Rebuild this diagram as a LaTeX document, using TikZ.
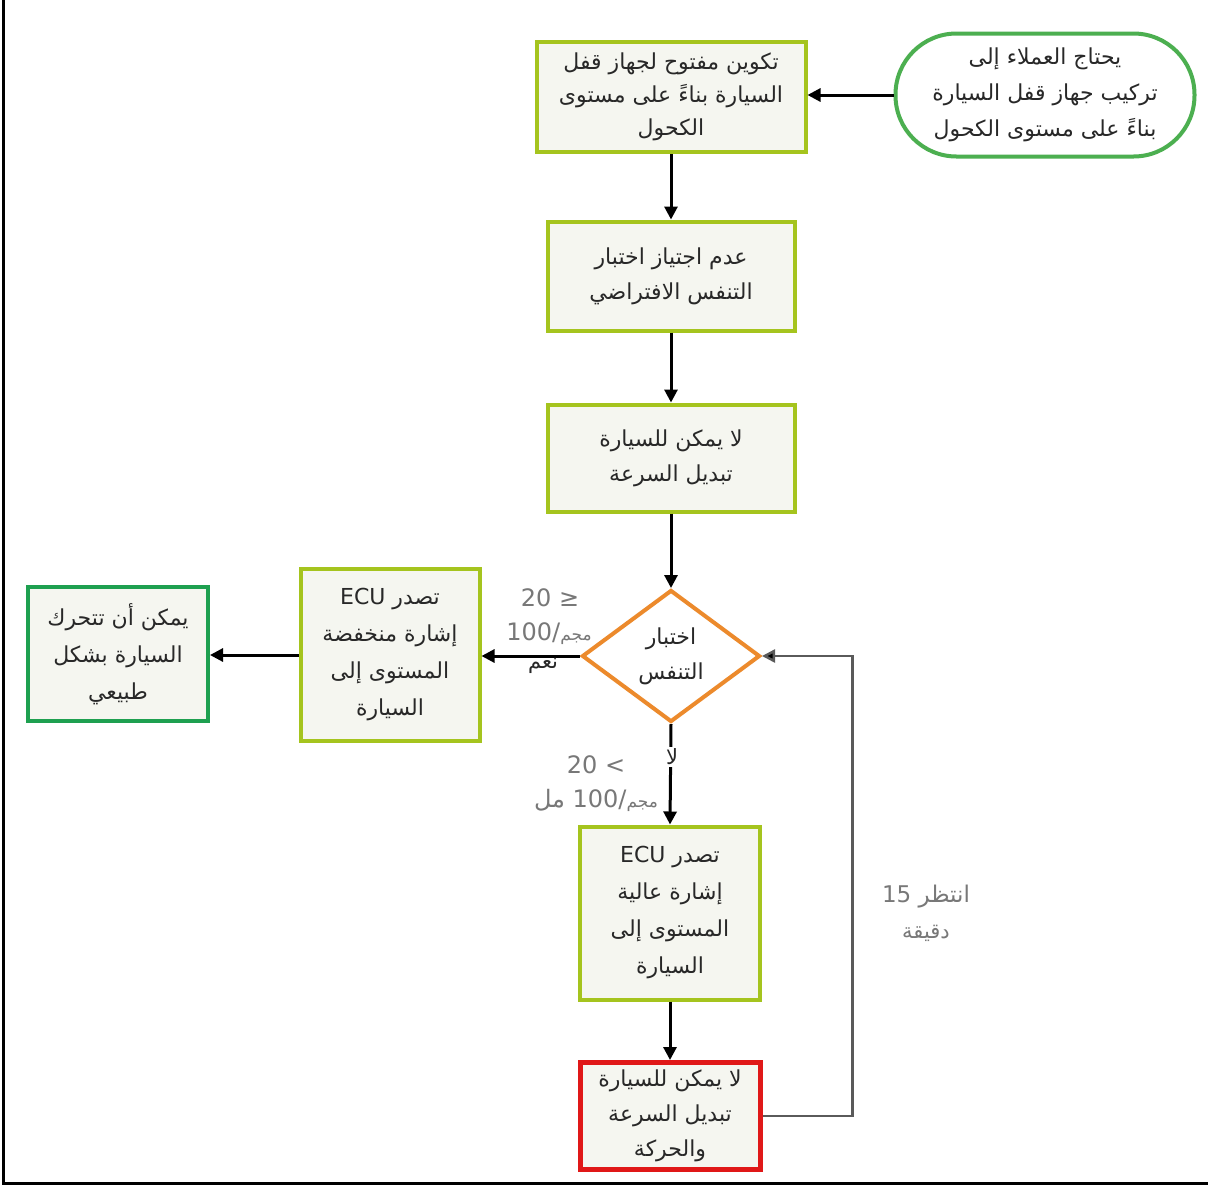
\documentclass[tikz,border=0pt]{standalone}
\usepackage{fontspec}
\usetikzlibrary{shapes.geometric,arrows.meta}
\TeXXeTstate=1
\newfontfamily\arabicfont[Script=Arabic]{DejaVu Sans}
\newfontfamily\symfont{DejaVu Sans}
\newcommand{\ar}[1]{{\arabicfont\beginR #1\endR}}
\definecolor{limec}{RGB}{165,196,30}
\definecolor{boxfill}{RGB}{245,246,240}
\definecolor{startg}{RGB}{76,175,80}
\definecolor{okg}{RGB}{30,160,80}
\definecolor{orangec}{RGB}{236,138,44}
\definecolor{redc}{RGB}{224,24,24}
\definecolor{txt}{RGB}{40,40,40}
\definecolor{labg}{RGB}{120,120,120}
\definecolor{loopc}{RGB}{90,90,90}
\tikzset{
  box/.style={draw=limec, line width=4pt, fill=boxfill, text=txt, align=center, inner sep=0pt,
    font=\arabicfont\fontsize{22}{35}\selectfont},
  arr/.style={-{Triangle[length=13pt,width=13pt]}, line width=3pt, black},
  looparr/.style={-{Triangle[length=13pt,width=13pt,fill=black]}, line width=2.5pt, draw=loopc},
  lab/.style={text=labg, inner sep=1pt, font=\symfont\fontsize{24}{28}\selectfont},
  labk/.style={text=txt, inner sep=1pt, font=\arabicfont\fontsize{21}{24}\selectfont}
}
\begin{document}
\begin{tikzpicture}[x=1pt,y=-1pt]
\useasboundingbox (0,0) rectangle (1208,1187);
\fill[white] (0,0) rectangle (1208,1187);
% frame
\draw[line width=3pt, black] (3,0) -- (3,1183) -- (1208,1183);

\node[box, draw=startg, fill=white, rounded corners=61pt, minimum width=299pt, minimum height=123pt, font=\arabicfont\fontsize{22}{36}\selectfont] (start) at (1045,95)
  {\ar{يحتاج العملاء إلى}\\\ar{تركيب جهاز قفل السيارة}\\\ar{بناءً على مستوى الكحول}};
\node[box, minimum width=269pt, minimum height=110pt, font=\arabicfont\fontsize{22}{33}\selectfont] (n1) at (671,97)
  {\ar{تكوين مفتوح لجهاز قفل}\\\ar{السيارة بناءً على مستوى}\\\ar{الكحول}};
\node[box, minimum width=247pt, minimum height=109pt] (n2) at (671,276)
  {\ar{عدم اجتياز اختبار}\\\ar{التنفس الافتراضي}};
\node[box, minimum width=247pt, minimum height=107pt] (n3) at (671,458)
  {\ar{لا يمكن للسيارة}\\\ar{تبديل السرعة}};
\node[box, draw=orangec, fill=white, shape=diamond, aspect=1.35, minimum width=178pt, minimum height=132pt] (dia) at (671,656)
  {\ar{اختبار}\\\ar{التنفس}};
\node[box, minimum width=179pt, minimum height=172pt, font=\arabicfont\fontsize{22}{37}\selectfont] (low) at (390,655)
  {\ar{تصدر \beginL{\symfont ECU}\endL}\\\ar{إشارة منخفضة}\\\ar{المستوى إلى}\\\ar{السيارة}};
\node[box, draw=okg, minimum width=180pt, minimum height=134pt, font=\arabicfont\fontsize{22}{37}\selectfont] (ok) at (118,654)
  {\ar{يمكن أن تتحرك}\\\ar{السيارة بشكل}\\\ar{طبيعي}};
\node[box, minimum width=180pt, minimum height=173pt, font=\arabicfont\fontsize{22}{37}\selectfont] (high) at (670,913)
  {\ar{تصدر \beginL{\symfont ECU}\endL}\\\ar{إشارة عالية}\\\ar{المستوى إلى}\\\ar{السيارة}};
\node[box, draw=redc, line width=5pt, minimum width=180pt, minimum height=107pt] (red) at (670,1116)
  {\ar{لا يمكن للسيارة}\\\ar{تبديل السرعة}\\\ar{والحركة}};

% connectors
\draw[arr] (start.west) -- (start.west -| n1.east);
\draw[arr] (n1.south) -- (n2.north);
\draw[arr] (n2.south) -- (n3.north);
\draw[arr] (n3.south) -- (dia.north);
\draw[arr] (dia.west) -- (dia.west -| low.east);
\draw[arr] (low.west) -- (low.west -| ok.east);
\draw[arr] (dia.south) -- (high.north);
\draw[arr] (high.south) -- (red.north);
\draw[looparr] (red.east) -- ++(90,0) |- (dia.east);

% labels
\node[lab] (y1) at (550,598) {20 ≥};
\node[lab] (y2) at (549,634) {100/{\arabicfont\fontsize{17}{20}\selectfont\beginR مجم\endR}};
\node[labk] (y3) at (543,666) {\ar{نعم}};
\node[labk, fill=white, inner sep=2pt] (no1) at (672,757) {\ar{لا}};
\node[lab] (no2) at (596,765) {20 <};
\node[lab] (no3) at (596,800) {{\arabicfont\beginR مل\endR} 100/{\arabicfont\fontsize{17}{20}\selectfont\beginR مجم\endR}};
\node[lab, align=center, font=\arabicfont\fontsize{23}{36}\selectfont] (wait) at (926,913)
  {\ar{انتظر \beginL{\symfont 15}\endL}\\{\fontsize{21}{24}\selectfont\ar{دقيقة}}};
\end{tikzpicture}
\end{document}
